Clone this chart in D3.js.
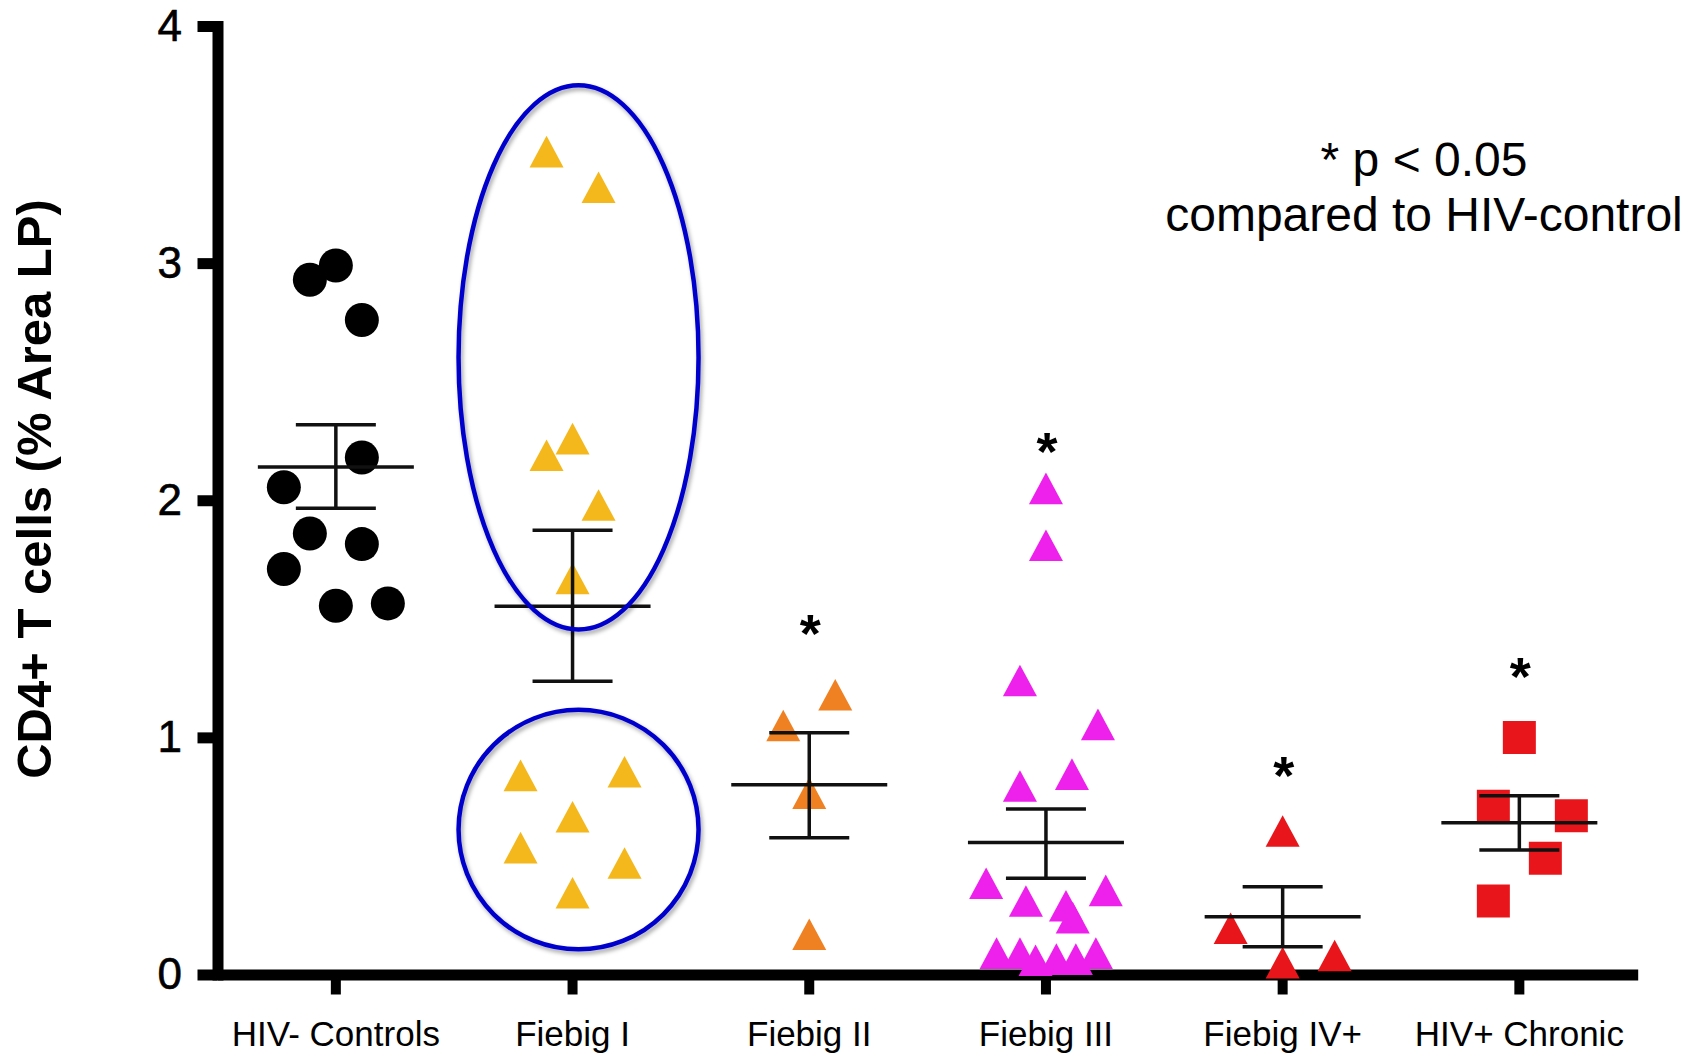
<!doctype html>
<html lang="en">
<head>
<meta charset="utf-8">
<title>CD4+ T cells</title>
<script src="https://cdn.jsdelivr.net/npm/d3@7"></script>
<style>
body { margin: 0; background: #fff; }
svg text { font-family: "Liberation Sans", Arial, Helvetica, sans-serif; fill: #000; }
.axis path, .axis line { stroke: #000; }
</style>
</head>
<body>
<svg id="chart"></svg>
<script>
var groups = ["HIV- Controls", "Fiebig I", "Fiebig II", "Fiebig III", "Fiebig IV+", "HIV+ Chronic"];
var yTicks = [0, 1, 2, 3, 4];

// values; lanes = sideways column each point sits in
var controlsValues = [2.99, 2.93, 2.76, 2.18, 2.055, 1.86, 1.815, 1.71, 1.555, 1.565];
var controlsLanes  = [0, -1, 1, 1, -2, -1, 1, -2, 0, 2];
var fiebig1Values  = [3.47, 3.32, 2.26, 2.19, 1.98, 1.67, 0.84, 0.855, 0.665, 0.535, 0.47, 0.345];
var fiebig1Lanes   = [-1, 1, 0, -1, 1, 0, -2, 2, 0, -2, 2, 0];
var fiebig2Values  = [1.18, 1.05, 0.765, 0.17];
var fiebig2Lanes   = [1, -1, 0, 0];
var fiebig3Values  = [2.05, 1.81, 1.24, 1.055, 0.845, 0.795, 0.385, 0.355, 0.31, 0.29, 0.24, 0.09, 0.09, 0.06, 0.065, 0.065, 0.09];
var fiebig3Lanes   = [0, 0, -1, 2, 1, -1, -2.3, 2.3, -0.77, 0.77, 1.03, -1.9, -1, -0.4, 0.4, 1.15, 1.92];
var fiebig4Values  = [0.605, 0.195, 0.05, 0.08];
var fiebig4Lanes   = [0, -2, 0, 2];
var chronicValues  = [1.0, 0.71, 0.67, 0.49, 0.31];
var chronicLanes   = [0, -1, 2, 1, -1];

var means    = [2.14, 1.553, 0.80, 0.557, 0.244, 0.64];
var semUpper = [2.318, 1.873, 1.02, 0.698, 0.37, 0.754];
var semLower = [1.966, 1.237, 0.577, 0.406, 0.117, 0.525];

var starGroups = ["Fiebig II", "Fiebig III", "Fiebig IV+", "HIV+ Chronic"];
var starValues = [1.49, 2.26, 0.89, 1.31];

// the two blue rings drawn round Fiebig I
var ringGroup   = "Fiebig I";
var ringTops    = [3.75, 1.116];
var ringBottoms = [1.455, 0.106];

var noteLines = ["* p < 0.05", "compared to HIV-control"];

var colors = ["#000000", "#f4b81c", "#ef8122", "#ee20ec", "#e8161a", "#e8161a"];

var width = 1698, height = 1058;
var laneWidth = 26;

var svg = d3.select("#chart").attr("width", width).attr("height", height);

var x = d3.scaleBand().domain(groups).range([217.5, 1637.7]).padding(0);
var y = d3.scaleLinear().domain([0, 4]).range([974.5, 26]);
function cx(g) { return x(g) + x.bandwidth() / 2; }

// triangle centred on its bounding box, like the prism markers
var boxTriangle = {
  draw: function(context, size) {
    var w = Math.sqrt(size), h = w * 0.93;
    context.moveTo(0, -h / 2);
    context.lineTo(w / 2, h / 2);
    context.lineTo(-w / 2, h / 2);
    context.closePath();
  }
};
var shapes = [d3.symbol().type(d3.symbolCircle).size(Math.PI * 17 * 17),
              d3.symbol().type(boxTriangle).size(34 * 34),
              d3.symbol().type(boxTriangle).size(34 * 34),
              d3.symbol().type(boxTriangle).size(34 * 34),
              d3.symbol().type(boxTriangle).size(34 * 34),
              d3.symbol().type(d3.symbolSquare).size(33 * 33)];

var allValues = [controlsValues, fiebig1Values, fiebig2Values, fiebig3Values, fiebig4Values, chronicValues];
var allLanes = [controlsLanes, fiebig1Lanes, fiebig2Lanes, fiebig3Lanes, fiebig4Lanes, chronicLanes];

var points = [];
for (var i = 0; i < groups.length; ++i) {
  for (var j = 0; j < allValues[i].length; ++j) {
    points.push({ g: i, v: allValues[i][j], lane: allLanes[i][j] });
  }
}

// shadow under the blue rings
var defs = svg.append("defs");
defs.append("filter").attr("id", "shadow").attr("x", "-10%").attr("y", "-10%").attr("width", "130%").attr("height", "130%")
  .append("feDropShadow").attr("dx", 2).attr("dy", 3).attr("stdDeviation", 2)
  .attr("flood-color", "#000").attr("flood-opacity", 0.35);

// axes
var yAxis = d3.axisLeft(y).tickValues(yTicks).tickFormat(d3.format("d"))
  .tickSizeInner(20).tickSizeOuter(0).tickPadding(15.5);
var gy = svg.append("g").attr("class", "axis").attr("transform", "translate(217.5,0)").call(yAxis);
gy.select(".domain").attr("stroke-width", 11).attr("stroke-linecap", "square");
gy.selectAll(".tick line").attr("stroke-width", 11);
gy.selectAll(".tick text").style("font-size", "44px").attr("stroke", "#000").attr("stroke-width", 0.6);

var xAxis = d3.axisBottom(x).tickSizeInner(20).tickSizeOuter(0).tickPadding(27);
var gx = svg.append("g").attr("class", "axis").attr("transform", "translate(0,974.5)").call(xAxis);
gx.select(".domain").attr("stroke-width", 11);
gx.selectAll(".tick line").attr("stroke-width", 10);
gx.selectAll(".tick text").style("font-size", "35px");

svg.append("text")
  .attr("transform", "translate(51,489) rotate(-90)")
  .attr("text-anchor", "middle")
  .style("font-size", "49px").style("font-weight", "bold")
  .text("CD4+ T cells (% Area LP)");

// points
svg.append("g").selectAll("path")
  .data(points)
  .enter().append("path")
    .attr("transform", function(d) { return "translate(" + (cx(groups[d.g]) + d.lane * laneWidth) + "," + y(d.v) + ")"; })
    .attr("d", function(d) { return shapes[d.g](); })
    .attr("fill", function(d) { return colors[d.g]; });

// mean and SEM
var bars = svg.append("g").attr("stroke", "#111").attr("stroke-width", 3.5);
groups.forEach(function(g, i) {
  var c = cx(g);
  bars.append("line").attr("x1", c - 78).attr("x2", c + 78).attr("y1", y(means[i])).attr("y2", y(means[i]));
  bars.append("line").attr("x1", c).attr("x2", c).attr("y1", y(semUpper[i])).attr("y2", y(semLower[i]));
  bars.append("line").attr("x1", c - 40).attr("x2", c + 40).attr("y1", y(semUpper[i])).attr("y2", y(semUpper[i]));
  bars.append("line").attr("x1", c - 40).attr("x2", c + 40).attr("y1", y(semLower[i])).attr("y2", y(semLower[i]));
});

// significance stars
svg.append("g").selectAll("text")
  .data(starGroups)
  .enter().append("text")
    .attr("x", function(d) { return cx(d) + 1; })
    .attr("y", function(d, i) { return y(starValues[i]) + 31; })
    .attr("text-anchor", "middle")
    .style("font-size", "54px").style("font-weight", "bold")
    .text("*");

// rings
svg.append("g").selectAll("ellipse")
  .data(ringTops)
  .enter().append("ellipse")
    .attr("cx", cx(ringGroup) + 6)
    .attr("cy", function(d, i) { return (y(d) + y(ringBottoms[i])) / 2; })
    .attr("rx", 120)
    .attr("ry", function(d, i) { return (y(ringBottoms[i]) - y(d)) / 2; })
    .attr("fill", "none")
    .attr("stroke", "#0000cc")
    .attr("stroke-width", 4.5)
    .attr("filter", "url(#shadow)");

svg.append("g").selectAll("text")
  .data(noteLines)
  .enter().append("text")
    .attr("x", 1424)
    .attr("y", function(d, i) { return 176 + i * 55; })
    .attr("text-anchor", "middle")
    .style("font-size", "48px")
    .text(function(d) { return d; });
</script>
</body>
</html>
